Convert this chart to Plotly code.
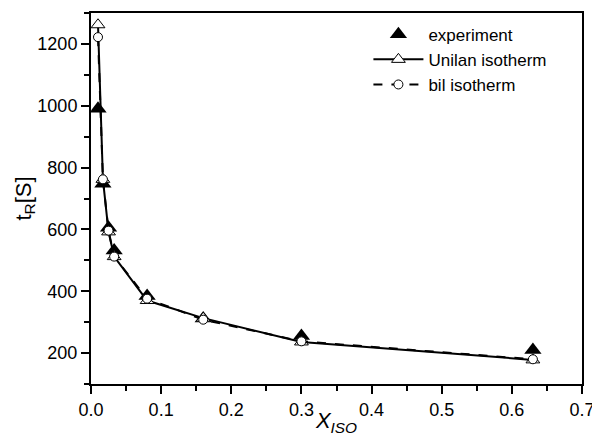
import plotly.graph_objects as go

x_iso = [0.01, 0.017, 0.025, 0.033, 0.08, 0.16, 0.30, 0.63]
t_experiment = [990, 748, 605, 532, 385, 312, 255, 210]
t_unilan = [1262, 762, 592, 512, 370, 313, 236, 178]
t_bil = [1222, 762, 596, 512, 376, 308, 238, 180]

x_ticks = [0.0, 0.1, 0.2, 0.3, 0.4, 0.5, 0.6, 0.7]
y_ticks = [200, 400, 600, 800, 1000, 1200]

FONT = "Liberation Sans, Arial, sans-serif"

fig = go.Figure()
fig.add_trace(go.Scatter(
    x=x_iso, y=t_experiment, mode="markers", name="experiment",
    marker=dict(symbol="triangle-up", size=15, color="black", line=dict(width=0)),
))
fig.add_trace(go.Scatter(
    x=x_iso, y=t_unilan, mode="lines+markers", name="Unilan isotherm",
    line=dict(color="black", width=2, dash="solid"),
    marker=dict(symbol="triangle-up", size=12, color="white", line=dict(color="black", width=1)),
))
fig.add_trace(go.Scatter(
    x=x_iso, y=t_bil, mode="lines+markers", name="bil isotherm",
    line=dict(color="black", width=2, dash="dash"),
    marker=dict(symbol="circle", size=9, color="white", line=dict(color="black", width=1)),
))

fig.update_layout(
    width=592, height=436,
    margin=dict(l=91, r=10, t=13, b=52, autoexpand=False),
    paper_bgcolor="white", plot_bgcolor="white",
    font=dict(family=FONT, size=18, color="black"),
    showlegend=True,
    legend=dict(
        x=0.565, y=0.99, xanchor="left", yanchor="top",
        bgcolor="rgba(0,0,0,0)", borderwidth=0,
        font=dict(family=FONT, size=17, color="black"),
        itemwidth=50, tracegroupgap=0,
    ),
    xaxis=dict(
        range=[0, 0.7], tickvals=x_ticks, ticktext=[f"{v:.1f}" for v in x_ticks],
        tickfont=dict(family=FONT, size=18, color="black"),
        ticklabeloverflow="allow",
        ticks="outside", ticklen=8, tickwidth=1.5, tickcolor="black",
        minor=dict(dtick=0.05, ticks="outside", ticklen=5, tickwidth=1.5, tickcolor="black"),
        showline=True, linecolor="black", linewidth=2, mirror=True,
        showgrid=False, zeroline=False, automargin=False,
        title=dict(text="<i>X</i><sub><i>ISO</i></sub>", font=dict(family=FONT, size=22), standoff=0),
    ),
    yaxis=dict(
        range=[100, 1300], tickvals=y_ticks,
        tickfont=dict(family=FONT, size=18, color="black"),
        ticklabeloverflow="allow",
        ticks="outside", ticklen=8, tickwidth=1.5, tickcolor="black",
        minor=dict(dtick=100, ticks="outside", ticklen=5, tickwidth=1.5, tickcolor="black"),
        showline=True, linecolor="black", linewidth=2, mirror=True,
        showgrid=False, zeroline=False, automargin=False,
        title=dict(text="t<sub>R</sub>[S]", font=dict(family=FONT, size=22), standoff=0),
    ),
)
fig.write_html("out.html")
